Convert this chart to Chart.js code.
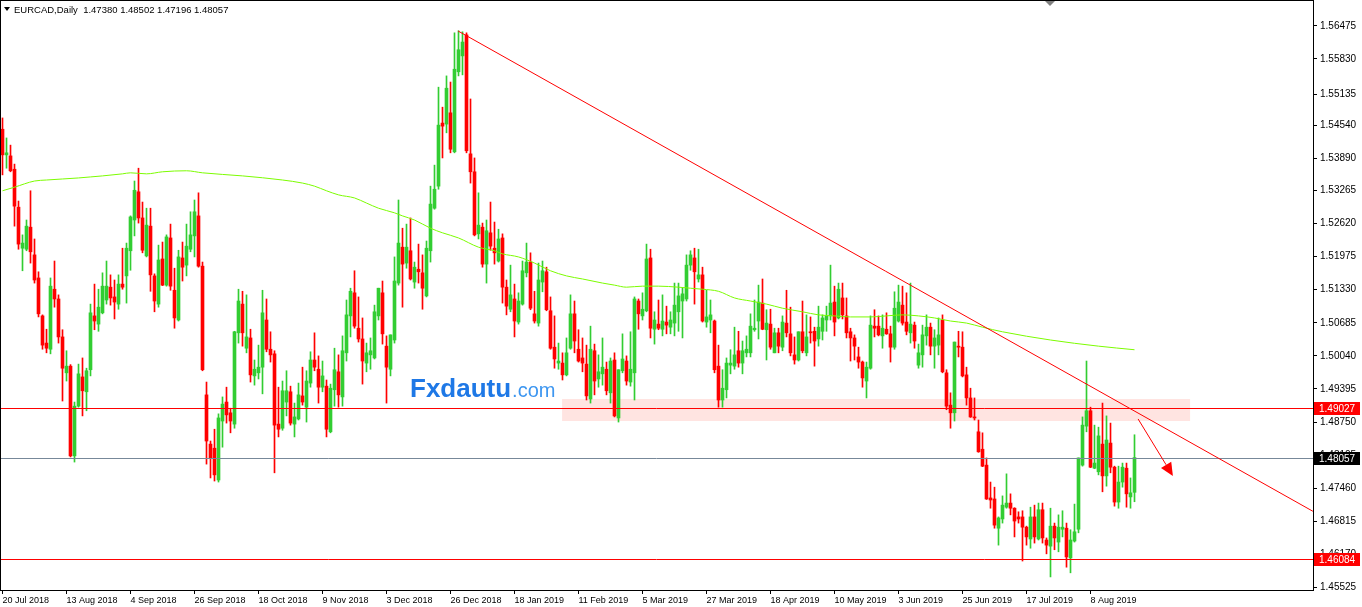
<!DOCTYPE html>
<html>
<head>
<meta charset="utf-8">
<title>EURCAD Daily</title>
<script src="https://cdn.jsdelivr.net/npm/chart.js@4.4.1/dist/chart.umd.min.js"></script>
<style>
  html, body { margin: 0; padding: 0; background: #fff; overflow: hidden; }
  #wrap { position: relative; width: 1362px; height: 607px; }
</style>
</head>
<body>
<div id="wrap"><canvas id="chart" width="1362" height="607"></canvas></div>
<script>
/* ---- data (20 Jul 2018 .. 23 Aug 2019) ---- */
var OPEN = [
  1.5446,1.5396,1.5394,1.5368,1.5294,1.5214,1.5212,1.5255,1.5201,1.5156,
  1.5082,1.5029,1.5017,1.5134,1.5115,1.5041,1.4971,1.4984,1.4809,1.4906,
  1.4963,1.4934,1.4977,1.5082,1.5066,1.5088,1.5113,1.5138,1.5119,1.5105,
  1.5144,1.5160,1.5209,1.5269,1.5324,1.5273,1.5199,1.5257,1.5160,1.5105,
  1.5193,1.5142,1.5234,1.5132,1.5074,1.5195,1.5181,1.5212,1.5238,1.5277,
  1.5179,1.4928,1.4832,1.4824,1.4762,1.4877,1.4914,1.4893,1.4871,1.5049,
  1.5105,1.5019,1.5039,1.4965,1.4971,1.4982,1.5074,1.5017,1.5008,1.4871,
  1.4863,1.4914,1.4934,1.4871,1.4881,1.4926,1.4904,1.4951,1.4996,1.4978,
  1.4943,1.4945,1.4856,1.4938,1.4973,1.4924,1.5010,1.5082,1.5127,1.5058,
  1.5037,1.4990,1.5006,1.5000,1.5082,1.5127,1.5023,1.4978,1.5035,1.5146,
  1.5216,1.5185,1.5209,1.5148,1.5173,1.5166,1.5121,1.5209,1.5292,1.5335,
  1.5458,1.5456,1.5478,1.5402,1.5558,1.5589,1.5630,1.5398,1.5363,1.5242,
  1.5255,1.5183,1.5244,1.5214,1.5189,1.5234,1.5138,1.5095,1.5115,1.5070,
  1.5105,1.5166,1.5187,1.5086,1.5068,1.5148,1.5168,1.5092,1.5021,1.4990,
  1.4990,1.4967,1.5019,1.5086,1.5017,1.5000,1.4988,1.4920,1.5014,1.4959,
  1.4969,1.4978,1.4932,1.4996,1.4883,1.4975,1.4994,1.4953,1.4971,1.5111,
  1.5082,1.5092,1.5195,1.5056,1.5066,1.5056,1.5070,1.5060,1.5068,1.5090,
  1.5111,1.5115,1.5181,1.5195,1.5154,1.5162,1.5070,1.5074,1.5072,1.4984,
  1.4918,1.4938,1.4986,1.4984,1.5014,1.4990,1.5010,1.5010,1.5055,1.5072,
  1.5107,1.5055,1.5066,1.5010,1.5049,1.5021,1.5068,1.5047,1.5006,1.4996,
  1.5051,1.5010,1.5051,1.5052,1.5037,1.5052,1.5074,1.5082,1.5109,1.5078,
  1.5117,1.5082,1.5051,1.5039,1.5002,1.4992,1.4955,1.4980,1.5062,1.5062,
  1.5043,1.5056,1.5047,1.5021,1.5072,1.5103,1.5070,1.5049,1.5064,1.4986,
  1.5006,1.5043,1.5060,1.5023,1.5025,1.5074,1.4971,1.4908,1.4893,1.5023,
  1.5021,1.4967,1.4922,1.4885,1.4856,1.4822,1.4791,1.4727,1.4725,1.4668,
  1.4686,1.4709,1.4717,1.4707,1.4690,1.4690,1.4670,1.4647,1.4690,1.4647,
  1.4704,1.4645,1.4633,1.4672,1.4641,1.4666,1.4668,1.4610,1.4643,1.4666,
  1.4791,1.4867,1.4897,1.4785,1.4778,1.4832,1.4770,1.4834,1.4787,1.4719,
  1.4758,1.4785,1.4729,1.47380
];
var HIGH = [
  1.5468,1.5429,1.5415,1.5378,1.5306,1.5240,1.5269,1.5326,1.5232,1.5168,
  1.5084,1.5056,1.5156,1.5189,1.5123,1.5055,1.5014,1.4987,1.4914,1.4988,
  1.5000,1.4980,1.5105,1.5144,1.5134,1.5166,1.5189,1.5162,1.5152,1.5162,
  1.5214,1.5224,1.5277,1.5345,1.5370,1.5304,1.5292,1.5292,1.5164,1.5220,
  1.5226,1.5240,1.5261,1.5175,1.5210,1.5226,1.5261,1.5285,1.5308,1.5322,
  1.5187,1.4953,1.4838,1.4861,1.4891,1.4924,1.4943,1.4902,1.5052,1.5134,
  1.5130,1.5123,1.5056,1.4996,1.5025,1.5132,1.5115,1.5051,1.5014,1.4943,
  1.4955,1.4975,1.4945,1.4912,1.4951,1.4982,1.4975,1.5012,1.5049,1.5004,
  1.4994,1.4957,1.4949,1.5019,1.5006,1.5043,1.5113,1.5136,1.5170,1.5119,
  1.5078,1.5029,1.5039,1.5103,1.5136,1.5150,1.5043,1.5045,1.5197,1.5308,
  1.5253,1.5261,1.5273,1.5187,1.5222,1.5201,1.5228,1.5335,1.5376,1.5528,
  1.5489,1.5550,1.5538,1.5634,1.5638,1.5636,1.5634,1.5505,1.5390,1.5322,
  1.5263,1.5269,1.5304,1.5265,1.5251,1.5242,1.5152,1.5181,1.5144,1.5127,
  1.5189,1.5224,1.5205,1.5130,1.5185,1.5189,1.5177,1.5119,1.5082,1.5029,
  1.5010,1.5039,1.5123,1.5111,1.5055,1.5039,1.5025,1.5062,1.5027,1.5006,
  1.5039,1.4992,1.5000,1.5010,1.4977,1.5047,1.5004,1.5051,1.5119,1.5115,
  1.5127,1.5222,1.5212,1.5090,1.5113,1.5123,1.5101,1.5090,1.5146,1.5146,
  1.5136,1.5201,1.5209,1.5214,1.5212,1.5177,1.5132,1.5113,1.5074,1.5025,
  1.4977,1.5000,1.5016,1.5060,1.5052,1.5033,1.5043,1.5086,1.5113,1.5142,
  1.5154,1.5094,1.5095,1.5058,1.5058,1.5082,1.5132,1.5099,1.5041,1.5051,
  1.5111,1.5084,1.5080,1.5060,1.5101,1.5084,1.5101,1.5181,1.5140,1.5146,
  1.5146,1.5117,1.5058,1.5045,1.5021,1.4994,1.4992,1.5082,1.5094,1.5082,
  1.5084,1.5088,1.5062,1.5129,1.5142,1.5140,1.5127,1.5146,1.5070,1.5027,
  1.5064,1.5084,1.5068,1.5055,1.5078,1.5084,1.4977,1.4932,1.5031,1.5052,
  1.5051,1.4982,1.4941,1.4922,1.4879,1.4854,1.4805,1.4758,1.4748,1.4690,
  1.4731,1.4774,1.4735,1.4708,1.4700,1.4702,1.4672,1.4709,1.4713,1.4717,
  1.4717,1.4649,1.4707,1.4678,1.4694,1.4702,1.4678,1.4665,1.4715,1.4805,
  1.4885,1.4994,1.4904,1.4869,1.4865,1.4912,1.4887,1.4873,1.4789,1.4789,
  1.4795,1.4795,1.4766,1.48502
];
var LOW = [
  1.5357,1.5370,1.5363,1.5257,1.5212,1.5170,1.5209,1.5185,1.5146,1.5080,
  1.5017,1.5010,1.5008,1.5099,1.5029,1.4916,1.4955,1.4807,1.4797,1.4904,
  1.4887,1.4897,1.4965,1.5055,1.5052,1.5086,1.5105,1.5103,1.5076,1.5095,
  1.5134,1.5107,1.5171,1.5238,1.5263,1.5205,1.5197,1.5130,1.5090,1.5099,
  1.5141,1.5140,1.5132,1.5058,1.5072,1.5150,1.5160,1.5207,1.5197,1.5177,
  1.4975,1.4793,1.4766,1.4760,1.4758,1.4826,1.4873,1.4854,1.4863,1.5029,
  1.5023,1.5010,1.4953,1.4947,1.4959,1.4930,1.5012,1.4992,1.4776,1.4846,
  1.4859,1.4887,1.4869,1.4846,1.4879,1.4908,1.4875,1.4943,1.4975,1.4912,
  1.4934,1.4846,1.4854,1.4906,1.4904,1.4906,1.4994,1.5041,1.5058,1.5031,
  1.4949,1.4973,1.4978,1.4998,1.5074,1.5027,1.4912,1.4965,1.5029,1.5142,
  1.5099,1.5175,1.5152,1.5136,1.5146,1.5095,1.5119,1.5187,1.5290,1.5329,
  1.5390,1.5439,1.5400,1.5400,1.5550,1.5552,1.5400,1.5341,1.5238,1.5232,
  1.5177,1.5146,1.5210,1.5183,1.5187,1.5107,1.5084,1.5090,1.5041,1.5066,
  1.5103,1.5158,1.5094,1.5068,1.5062,1.5129,1.5092,1.5017,1.4980,1.4978,
  1.4957,1.4965,1.5017,1.5010,1.4992,1.4973,1.4918,1.4912,1.4928,1.4943,
  1.4947,1.4928,1.4912,1.4885,1.4875,1.4971,1.4947,1.4945,1.4918,1.5056,
  1.5074,1.5090,1.5039,1.5027,1.5055,1.5043,1.5047,1.5047,1.5043,1.5052,
  1.5039,1.5111,1.5171,1.5105,1.5148,1.5070,1.5060,1.5049,1.4971,1.4904,
  1.4904,1.4922,1.4969,1.4978,1.4982,1.4969,1.5002,1.5002,1.5052,1.5037,
  1.5055,1.4996,1.5017,1.5010,1.5010,1.5014,1.5041,1.5004,1.4988,1.4994,
  1.5010,1.5004,1.5029,1.4984,1.5023,1.5035,1.5052,1.5074,1.5043,1.5076,
  1.5076,1.5039,1.4994,1.4996,1.4980,1.4943,1.4922,1.4978,1.5041,1.5043,
  1.5019,1.5046,1.4992,1.5017,1.5070,1.5064,1.5045,1.5029,1.5019,1.4980,
  1.4982,1.5025,1.5006,1.4980,1.5006,1.4971,1.4899,1.4863,1.4877,1.5002,
  1.4963,1.4908,1.4884,1.4879,1.4816,1.4788,1.4724,1.4707,1.4668,1.4635,
  1.4678,1.4707,1.4694,1.4651,1.4678,1.4604,1.4635,1.4629,1.4639,1.4645,
  1.4639,1.4618,1.4573,1.4626,1.4622,1.4651,1.4592,1.4581,1.4641,1.4659,
  1.4789,1.4856,1.4786,1.4784,1.4772,1.4739,1.4750,1.4776,1.4711,1.4707,
  1.4748,1.4709,1.4707,1.47196
];
var CLOSE = [
  1.5396,1.5400,1.5365,1.5296,1.5222,1.5224,1.5257,1.5207,1.5152,1.5086,
  1.5025,1.5019,1.5140,1.5115,1.5041,1.4980,1.4984,1.4809,1.4906,1.4969,
  1.4936,1.4975,1.5088,1.5072,1.5099,1.5140,1.5140,1.5117,1.5109,1.5144,
  1.5138,1.5214,1.5275,1.5327,1.5273,1.5210,1.5259,1.5162,1.5111,1.5191,
  1.5142,1.5236,1.5140,1.5078,1.5197,1.5177,1.5218,1.5240,1.5285,1.5179,
  1.4977,1.4838,1.4805,1.4772,1.4883,1.4910,1.4889,1.4877,1.5051,1.5111,
  1.5049,1.5041,1.4967,1.4978,1.4982,1.5088,1.5017,1.5006,1.4869,1.4861,
  1.4936,1.4936,1.4873,1.4885,1.4928,1.4914,1.4955,1.4996,1.4982,1.4943,
  1.4965,1.4861,1.4941,1.4977,1.4928,1.5014,1.5084,1.5130,1.5062,1.5037,
  1.4994,1.5010,1.5014,1.5090,1.5136,1.5047,1.4982,1.5045,1.5150,1.5224,
  1.5183,1.5216,1.5154,1.5177,1.5168,1.5136,1.5214,1.5300,1.5329,1.5454,
  1.5452,1.5526,1.5407,1.5563,1.5601,1.5616,1.5404,1.5363,1.5240,1.5259,
  1.5183,1.5248,1.5218,1.5205,1.5232,1.5138,1.5101,1.5123,1.5072,1.5111,
  1.5170,1.5187,1.5097,1.5072,1.5152,1.5170,1.5094,1.5019,1.4998,1.4994,
  1.4967,1.5010,1.5086,1.5033,1.4994,1.4990,1.4926,1.5017,1.4955,1.4973,
  1.4982,1.4936,1.4994,1.4887,1.4977,1.4998,1.4955,1.4978,1.5115,1.5086,
  1.5095,1.5193,1.5058,1.5074,1.5058,1.5072,1.5064,1.5074,1.5103,1.5121,
  1.5125,1.5181,1.5201,1.5168,1.5162,1.5072,1.5080,1.5084,1.4977,1.4918,
  1.4941,1.4990,1.4990,1.5006,1.4990,1.5014,1.5017,1.5062,1.5058,1.5109,
  1.5056,1.5068,1.5021,1.5049,1.5023,1.5070,1.5049,1.5010,1.4996,1.5051,
  1.5014,1.5041,1.5049,1.5033,1.5060,1.5078,1.5082,1.5107,1.5070,1.5134,
  1.5084,1.5049,1.5039,1.5023,1.4992,1.4961,1.4982,1.5064,1.5058,1.5045,
  1.5058,1.5047,1.5021,1.5097,1.5109,1.5068,1.5052,1.5066,1.5033,1.5010,
  1.5045,1.5060,1.5023,1.5039,1.5045,1.4973,1.4906,1.4893,1.5031,1.5021,
  1.4965,1.4922,1.4885,1.4883,1.4817,1.4789,1.4725,1.4723,1.4674,1.4688,
  1.4713,1.4717,1.4707,1.4682,1.4686,1.4670,1.4651,1.4690,1.4651,1.4704,
  1.4649,1.4635,1.4672,1.4649,1.4670,1.4670,1.4612,1.4645,1.4661,1.4805,
  1.4869,1.4897,1.4787,1.4795,1.4848,1.4770,1.4840,1.4787,1.4719,1.4758,
  1.4787,1.4735,1.4737,1.48057
];

/* 200-day moving average, read at a set of candles */
var MA_IDX = [0,3,8,11,15,19,22,25,30,32,36,40,46,50,60,70,75,78,81,84,88,91,94,98,100,103,
  107,110,114,119,123,125,129,133,137,141,145,150,153,156,160,164,169,172,175,179,183,187,191,195,
  200,204,208,212,217,221,225,229,233,237,241,245,250,262,274,283];
var MA_VAL = [1.5326,1.5333,1.5345,1.5347,1.5349,1.5351,1.5353,1.5355,1.5359,1.5361,1.5359,1.5363,
  1.5365,1.5361,1.5355,1.5347,1.5341,1.5335,1.5326,1.5318,1.5312,1.5302,1.5292,1.5283,1.5277,1.5269,
  1.5253,1.5244,1.5234,1.5216,1.5209,1.5203,1.5197,1.5185,1.5170,1.5160,1.5154,1.5146,1.5142,1.5138,
  1.5140,1.5140,1.5138,1.5136,1.5134,1.5130,1.5117,1.5111,1.5105,1.5097,1.5090,1.5084,1.5082,1.5080,
  1.5080,1.5082,1.5084,1.5082,1.5078,1.5072,1.5068,1.5060,1.5051,1.5035,1.5023,1.5016];

/* axis ticks */
var DATE_IDX = [0,16,32,48,64,80,96,112,128,144,160,176,192,208,224,240,256,272];
var DATE_LABELS = ["20 Jul 2018","13 Aug 2018","4 Sep 2018","26 Sep 2018","18 Oct 2018","9 Nov 2018",
  "3 Dec 2018","26 Dec 2018","18 Jan 2019","11 Feb 2019","5 Mar 2019","27 Mar 2019","18 Apr 2019",
  "10 May 2019","3 Jun 2019","25 Jun 2019","17 Jul 2019","8 Aug 2019"];
var PRICE_TICKS = [1.56475,1.55830,1.55135,1.54540,1.53890,1.53265,1.52620,1.51975,1.51330,
  1.50685,1.50040,1.49395,1.48750,1.48105,1.47460,1.46815,1.46170,1.45525];

/* drawn objects: levels, zone, trendline, arrow (index, price) */
var LEVELS = [
  { price: 1.49027, color: "#ff0000", box: "#ff0000" },
  { price: 1.48057, color: "#778899", box: "#000000" },
  { price: 1.46084, color: "#ff0000", box: "#ff0000" }
];
var ZONE = { from: 139.9, to: 296.9, lo: 1.4877, hi: 1.4920 };
var TREND = [[113.9, 1.56375], [327.6, 1.4701]];
var ARROW = [[283.9, 1.4881], [292.6, 1.4770]];

var BULL = "#32cd32", BEAR = "#ff0000", MA_COLOR = "#7cfc00";
var FONT = '"Liberation Sans", Arial, sans-serif';

var candleColor = OPEN.map(function (o, i) { return CLOSE[i] >= o ? BULL : BEAR; });

var overlay = {
  id: "mtOverlay",
  beforeDatasetsDraw: function (chart) {
    var ctx = chart.ctx, x = chart.scales.x, y = chart.scales.y;
    var x0 = x.getPixelForValue(ZONE.from), x1 = x.getPixelForValue(ZONE.to);
    var y0 = y.getPixelForValue(ZONE.hi), y1 = y.getPixelForValue(ZONE.lo);
    ctx.save();
    ctx.fillStyle = "#ffe4e1";
    ctx.fillRect(x0, y0, x1 - x0, y1 - y0);
    ctx.restore();
  },
  afterDatasetsDraw: function (chart) {
    var ctx = chart.ctx, x = chart.scales.x, y = chart.scales.y, a = chart.chartArea;
    ctx.save();
    ctx.beginPath();
    ctx.rect(a.left, a.top, a.right - a.left, a.bottom - a.top);
    ctx.clip();
    ctx.lineWidth = 1;
    LEVELS.forEach(function (l) {
      var py = Math.round(y.getPixelForValue(l.price)) + 0.5;
      ctx.strokeStyle = l.color;
      ctx.beginPath(); ctx.moveTo(a.left, py); ctx.lineTo(a.right, py); ctx.stroke();
    });
    ctx.strokeStyle = "#ff0000";
    ctx.beginPath();
    ctx.moveTo(x.getPixelForValue(TREND[0][0]), y.getPixelForValue(TREND[0][1]));
    ctx.lineTo(x.getPixelForValue(TREND[1][0]), y.getPixelForValue(TREND[1][1]));
    ctx.stroke();
    /* arrow */
    var ax0 = x.getPixelForValue(ARROW[0][0]), ay0 = y.getPixelForValue(ARROW[0][1]);
    var ax1 = x.getPixelForValue(ARROW[1][0]), ay1 = y.getPixelForValue(ARROW[1][1]);
    var ang = Math.atan2(ay1 - ay0, ax1 - ax0), hl = 13, hw = 6;
    var bx = ax1 - hl * Math.cos(ang), by = ay1 - hl * Math.sin(ang);
    ctx.beginPath(); ctx.moveTo(ax0, ay0); ctx.lineTo(bx, by); ctx.stroke();
    ctx.fillStyle = "#ff0000";
    ctx.beginPath();
    ctx.moveTo(ax1, ay1);
    ctx.lineTo(bx + hw * Math.sin(ang), by - hw * Math.cos(ang));
    ctx.lineTo(bx - hw * Math.sin(ang), by + hw * Math.cos(ang));
    ctx.closePath(); ctx.fill();
    ctx.restore();
  },
  afterDraw: function (chart) {
    var ctx = chart.ctx, y = chart.scales.y, a = chart.chartArea;
    ctx.save();
    /* frame */
    ctx.strokeStyle = "#000"; ctx.lineWidth = 1;
    ctx.strokeRect(a.left + 0.5, a.top + 0.5, a.right - a.left, a.bottom - a.top);
    /* price boxes on the scale */
    ctx.font = "10px " + FONT;
    ctx.textBaseline = "middle";
    LEVELS.forEach(function (l) {
      var py = Math.round(y.getPixelForValue(l.price));
      ctx.fillStyle = l.box;
      ctx.fillRect(a.right + 1, py - 6, 46, 13);
      ctx.fillStyle = "#fff";
      ctx.fillText(l.price.toFixed(5), a.right + 6, py + 1);
    });
    /* symbol header */
    ctx.fillStyle = "#000";
    ctx.beginPath(); ctx.moveTo(4, 7); ctx.lineTo(10, 7); ctx.lineTo(7, 11); ctx.closePath(); ctx.fill();
    ctx.font = "9.5px " + FONT;
    ctx.fillText("EURCAD,Daily  " + [OPEN[283], HIGH[283], LOW[283], CLOSE[283]].map(function (v) {
      return v.toFixed(5);
    }).join(" "), 14, 10);
    /* chart shift marker */
    ctx.fillStyle = "#808080";
    ctx.beginPath(); ctx.moveTo(1045, 1); ctx.lineTo(1055, 1); ctx.lineTo(1050, 6); ctx.closePath(); ctx.fill();
    /* watermark */
    ctx.textBaseline = "alphabetic";
    ctx.font = "bold 26px " + FONT;
    ctx.fillStyle = "#1e78e6";
    ctx.fillText("Fxdautu", 410, 397);
    var w = ctx.measureText("Fxdautu").width;
    ctx.font = "20px " + FONT;
    ctx.fillStyle = "#3d96f0";
    ctx.fillText(".com", 410 + w + 1, 397);
    ctx.restore();
  }
};

new Chart(document.getElementById("chart"), {
  type: "bar",
  data: {
    datasets: [
      {
        type: "line",
        data: MA_IDX.map(function (v, i) { return { x: v, y: MA_VAL[i] }; }),
        borderColor: MA_COLOR, borderWidth: 1, pointRadius: 0,
        cubicInterpolationMode: "monotone", order: 0
      },
      {
        data: OPEN.map(function (o, i) { return { x: i, y: [o, CLOSE[i]] }; }),
        backgroundColor: candleColor, borderWidth: 0, barThickness: 3,
        minBarLength: 1, grouped: false, order: 1
      },
      {
        data: LOW.map(function (l, i) { return { x: i, y: [l, HIGH[i]] }; }),
        backgroundColor: candleColor, borderWidth: 0, barThickness: 1,
        grouped: false, order: 2
      }
    ]
  },
  options: {
    responsive: false,
    animation: false,
    events: [],
    layout: { padding: 0 },
    plugins: { legend: { display: false }, tooltip: { enabled: false } },
    scales: {
      x: {
        type: "linear", min: -0.625, max: 327.625, offset: false,
        grid: { display: true, offset: false, drawOnChartArea: false, tickLength: 4, color: "#000" },
        border: { display: false },
        ticks: {
          autoSkip: false, maxRotation: 0, align: "start", padding: 1,
          color: "#000", font: { family: FONT, size: 9 },
          callback: function (v) { var k = DATE_IDX.indexOf(v); return k < 0 ? "" : DATE_LABELS[k]; }
        },
        afterBuildTicks: function (s) { s.ticks = DATE_IDX.map(function (v) { return { value: v }; }); },
        afterFit: function (s) { s.height = 17; s.paddingLeft = 0; s.paddingRight = 0; }
      },
      y: {
        position: "right", min: 1.45475, max: 1.5698,
        grid: { display: true, drawOnChartArea: false, tickLength: 4, color: "#000" },
        border: { display: false },
        ticks: {
          padding: 3, color: "#000", font: { family: FONT, size: 10 },
          callback: function (v) { return Number(v).toFixed(5); }
        },
        afterBuildTicks: function (s) { s.ticks = PRICE_TICKS.map(function (v) { return { value: v }; }); },
        afterFit: function (s) { s.width = 49; s.paddingTop = 0; s.paddingBottom = 0; }
      }
    }
  },
  plugins: [overlay]
});
</script>
</body>
</html>
